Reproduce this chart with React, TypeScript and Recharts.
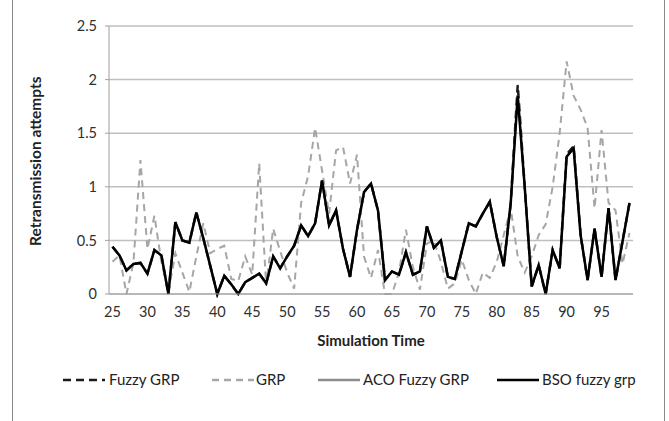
import { LineChart, Line, XAxis, YAxis, CartesianGrid } from 'recharts';

const simulationTime = [
  25, 26, 27, 28, 29, 30, 31, 32, 33, 34, 35, 36, 37, 38, 39, 40, 41, 42, 43, 44, 45, 46, 47, 48, 49,
  50, 51, 52, 53, 54, 55, 56, 57, 58, 59, 60, 61, 62, 63, 64, 65, 66, 67, 68, 69, 70, 71, 72, 73, 74,
  75, 76, 77, 78, 79, 80, 81, 82, 83, 84, 85, 86, 87, 88, 89, 90, 91, 92, 93, 94, 95, 96, 97, 98, 99,
];

const fuzzyGrp = [
  0.44, 0.36, 0.22, 0.28, 0.29, 0.19, 0.41, 0.36, 0.0, 0.67, 0.5, 0.48, 0.76, 0.52, 0.26, 0.0, 0.17, 0.09, 0.0, 0.11, 0.15, 0.19, 0.1, 0.35, 0.24,
  0.35, 0.45, 0.64, 0.54, 0.66, 1.06, 0.64, 0.78, 0.42, 0.16, 0.6, 0.95, 1.03, 0.78, 0.13, 0.21, 0.18, 0.39, 0.18, 0.21, 0.63, 0.43, 0.5, 0.16, 0.14,
  0.4, 0.66, 0.63, 0.75, 0.86, 0.53, 0.26, 0.85, 1.95, 1.0, 0.07, 0.27, 0.0, 0.41, 0.24, 1.3, 1.38, 0.55, 0.13, 0.61, 0.16, 0.8, 0.13, 0.49, 0.85,
];

const grp = [
  0.3, 0.36, 0.0, 0.29, 1.25, 0.42, 0.73, 0.3, 0.02, 0.38, 0.2, 0.02, 0.35, 0.66, 0.38, 0.42, 0.45, 0.14, 0.12, 0.35, 0.18, 1.22, 0.08, 0.61, 0.4,
  0.2, 0.05, 0.85, 1.1, 1.55, 1.15, 0.75, 1.34, 1.37, 1.03, 1.3, 0.35, 0.15, 0.41, 0.0, 0.0, 0.2, 0.6, 0.25, 0.04, 0.47, 0.5, 0.3, 0.05, 0.1,
  0.32, 0.13, 0.0, 0.2, 0.15, 0.3, 0.55, 0.8, 0.35, 0.2, 0.35, 0.55, 0.65, 1.0, 1.5, 2.17, 1.85, 1.72, 1.55, 0.8, 1.53, 0.85, 0.78, 0.28, 0.57,
];

const acoFuzzyGrp = [
  0.44, 0.36, 0.22, 0.28, 0.29, 0.19, 0.41, 0.36, 0.0, 0.67, 0.5, 0.48, 0.76, 0.52, 0.26, 0.0, 0.17, 0.09, 0.0, 0.11, 0.15, 0.19, 0.1, 0.35, 0.24,
  0.35, 0.45, 0.64, 0.54, 0.66, 1.06, 0.64, 0.78, 0.42, 0.16, 0.6, 0.95, 1.03, 0.78, 0.13, 0.21, 0.18, 0.39, 0.18, 0.21, 0.63, 0.43, 0.5, 0.16, 0.14,
  0.4, 0.66, 0.63, 0.75, 0.86, 0.53, 0.26, 0.85, 1.85, 1.0, 0.07, 0.27, 0.0, 0.41, 0.24, 1.28, 1.36, 0.55, 0.13, 0.61, 0.16, 0.8, 0.13, 0.49, 0.85,
];

const bsoFuzzyGrp = [
  0.44, 0.36, 0.22, 0.28, 0.29, 0.19, 0.41, 0.36, 0.0, 0.67, 0.5, 0.48, 0.76, 0.52, 0.26, 0.0, 0.17, 0.09, 0.0, 0.11, 0.15, 0.19, 0.1, 0.35, 0.24,
  0.35, 0.45, 0.64, 0.54, 0.66, 1.06, 0.64, 0.78, 0.42, 0.16, 0.6, 0.95, 1.03, 0.78, 0.13, 0.21, 0.18, 0.39, 0.18, 0.21, 0.63, 0.43, 0.5, 0.16, 0.14,
  0.4, 0.66, 0.63, 0.75, 0.86, 0.53, 0.26, 0.85, 1.85, 1.0, 0.07, 0.27, 0.0, 0.41, 0.24, 1.28, 1.36, 0.55, 0.13, 0.61, 0.16, 0.8, 0.13, 0.49, 0.85,
];

const xTicks = [25, 30, 35, 40, 45, 50, 55, 60, 65, 70, 75, 80, 85, 90, 95];
const yTicks = [0, 0.5, 1, 1.5, 2, 2.5];

const data = simulationTime.map((t, i) => ({
  t,
  fuzzy: fuzzyGrp[i],
  grp: grp[i],
  aco: acoFuzzyGrp[i],
  bso: bsoFuzzyGrp[i],
}));

const font = 'Lato, "Open Sans", sans-serif';

const legendItems = [
  { name: 'Fuzzy GRP', color: '#1a1a1a', dash: '8 5', lineX: 63, textX: 109 },
  { name: 'GRP', color: '#a6a6a6', dash: '7 5', lineX: 212, textX: 256 },
  { name: 'ACO Fuzzy GRP', color: '#8c8c8c', dash: undefined, lineX: 318, textX: 363 },
  { name: 'BSO fuzzy grp', color: '#000000', dash: undefined, lineX: 497, textX: 542 },
];

export default function App() {
  return (
    <div style={{ position: 'absolute', left: 0, top: 0, width: 669, height: 421, background: '#fff', fontFamily: font }}>
      <div style={{ position: 'absolute', left: 12, top: -2, width: 651, height: 430, border: '1px solid #8a8a8a' }} />
      <LineChart width={669} height={421} data={data} margin={{ top: 26, right: 36, left: 60, bottom: 97 }}>
        <CartesianGrid horizontal vertical={false} stroke="#bfbfbf" strokeWidth={1.5} />
        <XAxis
          dataKey="t"
          type="number"
          domain={[24.5, 99.5]}
          ticks={xTicks}
          interval={0}
          height={30}
          axisLine={{ stroke: '#a0a0a0' }}
          tickLine={false}
          tick={{ fill: '#303030', fontSize: 14.5, fontFamily: font }}
          tickMargin={7}
          label={{ value: 'Simulation Time', position: 'insideBottom', offset: -22, fill: '#222', fontSize: 15, fontWeight: 'bold', fontFamily: font }}
        />
        <YAxis
          type="number"
          domain={[0, 2.5]}
          ticks={yTicks}
          width={49}
          axisLine={{ stroke: '#a0a0a0' }}
          tickLine={{ stroke: '#a0a0a0' }}
          tickSize={4}
          tick={{ fill: '#303030', fontSize: 14.5, fontFamily: font }}
          tickMargin={8}
          label={{ value: 'Retransmission attempts', angle: -90, position: 'insideLeft', offset: -25, dy: 86, fill: '#222', fontSize: 15.5, fontWeight: 'bold', fontFamily: font }}
        />
        <Line type="linear" dataKey="fuzzy" stroke="#1a1a1a" strokeWidth={2.5} strokeDasharray="8 5" dot={false} isAnimationActive={false} />
        <Line type="linear" dataKey="grp" stroke="#a6a6a6" strokeWidth={2} strokeDasharray="7 5" dot={false} isAnimationActive={false} />
        <Line type="linear" dataKey="aco" stroke="#8c8c8c" strokeWidth={2} dot={false} isAnimationActive={false} />
        <Line type="linear" dataKey="bso" stroke="#000000" strokeWidth={2.5} dot={false} isAnimationActive={false} />
      </LineChart>
      <svg style={{ position: 'absolute', left: 0, top: 368 }} width={669} height={24}>
        {legendItems.map((it) => (
          <g key={it.name}>
            <line x1={it.lineX} x2={it.lineX + 42} y1={12} y2={12} stroke={it.color} strokeWidth={2.5} strokeDasharray={it.dash} />
            <text x={it.textX} y={17} fill="#222" fontSize={15} fontFamily={font}>{it.name}</text>
          </g>
        ))}
      </svg>
    </div>
  );
}
